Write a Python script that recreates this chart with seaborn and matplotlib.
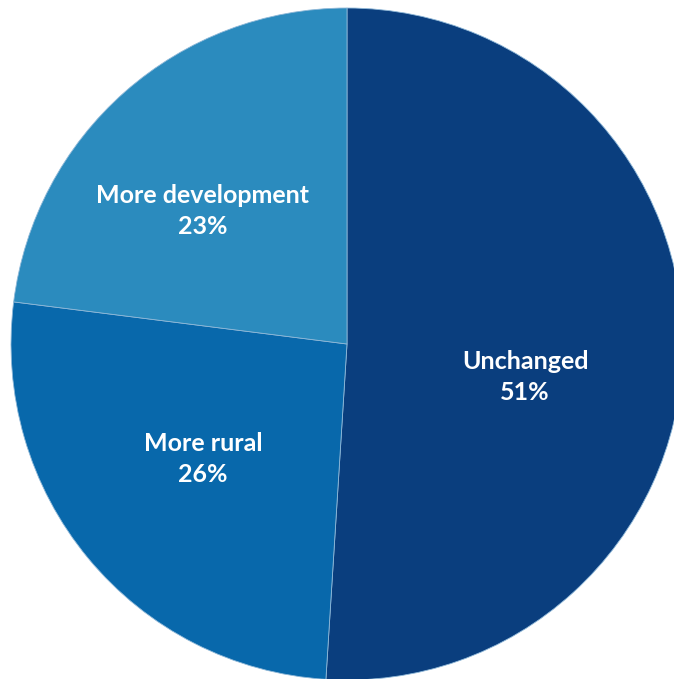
import matplotlib
matplotlib.use("Agg")
import matplotlib.pyplot as plt
import seaborn as sns

sns.set_theme(style="white")
plt.rcParams['font.family'] = ['Lato', 'DejaVu Sans']

# data
categories = ["Unchanged", "More rural", "More development"]
shares = [51, 26, 23]
slice_colors = ["#0a3e7e", "#0868ab", "#2b8bbe"]

# label anchor spots (pie radius units), as placed in the reference
label_pos = [(0.530, -0.098), (-0.429, -0.342), (-0.429, 0.396)]

fig = plt.figure(figsize=(6.74, 6.79), dpi=100)
ax = fig.add_axes([0, 0, 1, 1])

def fmt(pct):
    i = min(range(len(shares)), key=lambda k: abs(shares[k] - pct))
    return f"{categories[i]}\n{shares[i]}%"

wedges, texts, autotexts = ax.pie(
    shares,
    colors=slice_colors,
    startangle=90,
    counterclock=False,
    autopct=fmt,
    pctdistance=0.56,
    wedgeprops=dict(edgecolor="#8fb8d8", linewidth=0.6),
    textprops=dict(color="white", fontsize=18, fontweight="bold",
                   linespacing=1.45),
)
for t, p in zip(autotexts, label_pos):
    t.set_position(p)

ax.set_aspect("auto")
ax.set_xlim(-347 / 336, (674 - 347) / 336)
ax.set_ylim(-(679 - 344) / 336, 344 / 336)
ax.axis("off")

fig.savefig("out.png", dpi=100)
